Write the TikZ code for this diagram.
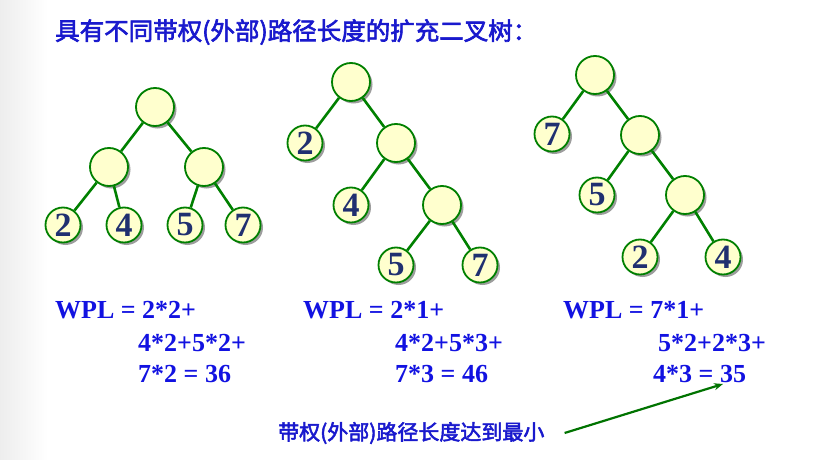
\documentclass[tikz,border=0pt]{standalone}
\usepackage{fontspec}
\setmainfont{Liberation Serif}
\newfontfamily\cjk{Noto Sans CJK SC}[AutoFakeBold=2.5]
\usetikzlibrary{arrows.meta,positioning,shadows}
\definecolor{nodefill}{RGB}{255,255,206}
\definecolor{nodeline}{RGB}{0,128,0}
\definecolor{numblue}{RGB}{32,48,112}
\definecolor{txtblue}{RGB}{18,18,225}
\definecolor{ttlblue}{RGB}{25,25,205}

\begin{document}
\begin{tikzpicture}[x=1pt,y=-1pt,
  innode/.style={circle,draw=nodeline,line width=1.8pt,fill=nodefill,
    minimum size=38pt,inner sep=0pt,
    drop shadow={shadow xshift=2.5pt,shadow yshift=-2.5pt,fill=black!55,opacity=0.7}},
  leafnode/.style={innode,minimum size=35pt,
    font=\fontsize{34}{34}\bfseries\selectfont,text=numblue},
  branch/.style={nodeline,line width=2.6pt},
  wpl/.style={anchor=west,inner sep=0pt,
    font=\fontsize{26}{26}\bfseries\selectfont,text=txtblue},
  pointer/.style={nodeline!90!black,line width=2.2pt,
    arrows={-Stealth[length=9pt,width=7pt]}}]
% =====================
% SFONDO
% =====================
\useasboundingbox (0,0) rectangle (833,460);
\shade[left color=black!7,right color=white] (0,0) rectangle (48,460);

% =====================
% TITOLO
% =====================
\node[anchor=west,inner sep=0pt,text=ttlblue,
  font=\cjk\bfseries\fontsize{24.5}{24.5}\selectfont] (title) at (55,32)
  {具有不同带权(外部)路径长度的扩充二叉树：};

% =====================
% ALBERO 1
% =====================
\node[innode] (a0) at (155,107) {};
\node[innode] (a1) at (109,167) {};
\node[innode] (a2) at (204,167) {};
\node[leafnode] (a3) at (63,225) {2};
\node[leafnode] (a4) at (124,225) {4};
\node[leafnode] (a5) at (185,225) {5};
\node[leafnode] (a6) at (243,225) {7};
\draw[branch] (a0) -- (a1);
\draw[branch] (a0) -- (a2);
\draw[branch] (a1) -- (a3);
\draw[branch] (a1) -- (a4);
\draw[branch] (a2) -- (a5);
\draw[branch] (a2) -- (a6);

% =====================
% ALBERO 2
% =====================
\node[innode] (b0) at (351,82) {};
\node[leafnode] (b1) at (305,143) {2};
\node[innode] (b2) at (396,143) {};
\node[leafnode] (b3) at (351,205) {4};
\node[innode] (b4) at (442,205) {};
\node[leafnode] (b5) at (396,265) {5};
\node[leafnode] (b6) at (480,265) {7};
\draw[branch] (b0) -- (b1);
\draw[branch] (b0) -- (b2);
\draw[branch] (b2) -- (b3);
\draw[branch] (b2) -- (b4);
\draw[branch] (b4) -- (b5);
\draw[branch] (b4) -- (b6);

% =====================
% ALBERO 3
% =====================
\node[innode] (c0) at (595,75) {};
\node[leafnode] (c1) at (552,134) {7};
\node[innode] (c2) at (640,135) {};
\node[leafnode] (c3) at (597,195) {5};
\node[innode] (c4) at (685,195) {};
\node[leafnode] (c5) at (640,257) {2};
\node[leafnode] (c6) at (723,257) {4};
\draw[branch] (c0) -- (c1);
\draw[branch] (c0) -- (c2);
\draw[branch] (c2) -- (c3);
\draw[branch] (c2) -- (c4);
\draw[branch] (c4) -- (c5);
\draw[branch] (c4) -- (c6);

% =====================
% WPL
% =====================
\node[wpl] (w1a) at (55,310) {WPL = 2*2+};
\node[wpl] (w1b) at (138,343) {4*2+5*2+};
\node[wpl] (w1c) at (138,374) {7*2 = 36};
\node[wpl] (w2a) at (303,310) {WPL = 2*1+};
\node[wpl] (w2b) at (395,343) {4*2+5*3+};
\node[wpl] (w2c) at (395,374) {7*3 = 46};
\node[wpl] (w3a) at (563,310) {WPL = 7*1+};
\node[wpl] (w3b) at (658,343) {5*2+2*3+};
\node[wpl] (w3c) at (653,374) {4*3 = 35};

% =====================
% NOTA
% =====================
\node[anchor=west,inner sep=0pt,text=ttlblue,
  font=\cjk\bfseries\fontsize{21}{21}\selectfont] (note) at (278,433)
  {带权(外部)路径长度达到最小};
\coordinate (tip) at (723,384);
\draw[pointer] ([xshift=20pt]note.east) -- (tip);

\end{tikzpicture}
\end{document}
